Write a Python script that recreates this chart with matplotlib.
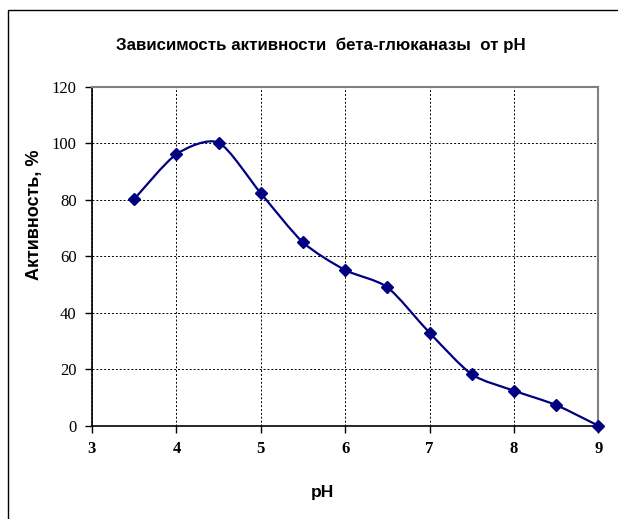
import matplotlib
matplotlib.use("Agg")
import matplotlib.pyplot as plt
from matplotlib.path import Path
from matplotlib.patches import PathPatch, Rectangle
import numpy as np

ph = [3.5, 4, 4.5, 5, 5.5, 6, 6.5, 7, 7.5, 8, 8.5, 9]
activity = [80.2, 96.1, 100.2, 82.3, 64.9, 55.1, 49.0, 32.9, 18.2, 12.4, 7.3, 0]
x_ticks = [3, 4, 5, 6, 7, 8, 9]
y_ticks = [0, 20, 40, 60, 80, 100, 120]

title = "Зависимость активности  бета-глюканазы  от pH"
ylabel = "Активность, %"
xlabel = "pH"
navy = "#000080"

fig = plt.figure(figsize=(6.18, 5.19), dpi=100)
W, H = 618, 519
ax = fig.add_axes([92 / W, 1 - 425.7 / H, (598.3 - 92) / W, (425.7 - 86.7) / H])

# outer chart frame
fig.patches.append(Rectangle((8 / W, -0.1), 1.2, 1 - 10 / H + 0.1, transform=fig.transFigure,
                             fill=False, edgecolor="black", linewidth=1.0))

# smoothed line (Excel-like Bezier through the points)
tension = 1 / 8
pts = np.column_stack([ph, activity])
n = len(pts)
verts = [pts[0]]
codes = [Path.MOVETO]
for i in range(n - 1):
    p0 = pts[i - 1] if i > 0 else pts[i]
    p1 = pts[i]
    p2 = pts[i + 1]
    p3 = pts[i + 2] if i + 2 < n else pts[i + 1]
    c1 = p1 + (p2 - p0) * tension
    c2 = p2 - (p3 - p1) * tension
    verts += [c1, c2, p2]
    codes += [Path.CURVE4] * 3
ax.add_patch(PathPatch(Path(verts, codes), facecolor="none", edgecolor=navy, linewidth=1.6, zorder=3))
ax.plot(ph, activity, linestyle="none", marker="D", markersize=6, color=navy, zorder=4, clip_on=False)

ax.set_xlim(3, 9)
ax.set_ylim(0, 120)
ax.set_xticks(x_ticks)
ax.set_yticks(y_ticks)
ax.grid(True, color="black", linestyle=(0, (2, 2)), linewidth=0.7)
ax.set_axisbelow(True)
for s in ["top", "right"]:
    ax.spines[s].set_color("#808080")
    ax.spines[s].set_linewidth(1.5)
for s in ["left", "bottom"]:
    ax.spines[s].set_color("black")
    ax.spines[s].set_linewidth(1.2)
ax.tick_params(direction="out", length=5, width=1, color="black", pad=6)
for lab in ax.get_xticklabels():
    lab.set_fontfamily("Liberation Serif")
    lab.set_fontweight("bold")
    lab.set_fontsize(12)
for lab in ax.get_yticklabels():
    lab.set_fontfamily("Liberation Serif")
    lab.set_fontsize(12)

fig.text(321 / W, 1 - 45 / H, title, ha="center", va="center", fontsize=12.2,
         fontweight="bold", family="Liberation Sans")
fig.text(35 / W, 1 - 215 / H, ylabel, ha="center", va="center", rotation=90,
         fontsize=13, fontweight="bold", family="Liberation Sans")
fig.text(322 / W, 1 - 492 / H, xlabel, ha="center", va="center",
         fontsize=12.5, fontweight="bold", family="Liberation Sans")

fig.savefig("out.png", dpi=100)
